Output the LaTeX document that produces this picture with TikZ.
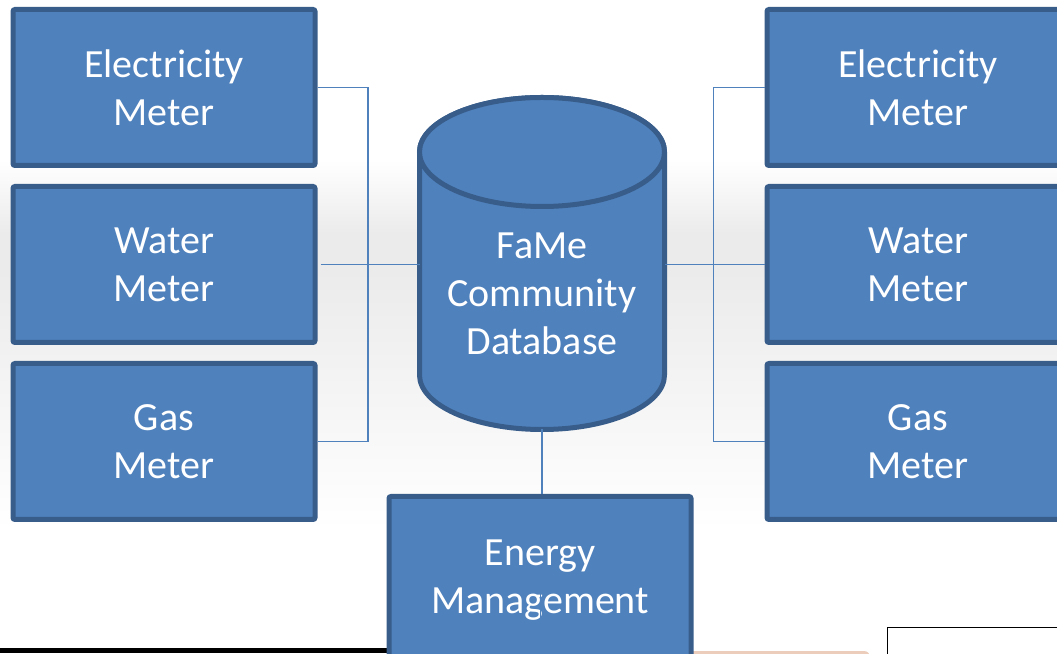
\documentclass[tikz,border=0pt]{standalone}
\usepackage{fontspec}
\setmainfont{Carlito}
\usepackage{tikz}
\usetikzlibrary{positioning}
\definecolor{meterblue}{RGB}{79,129,189}
\definecolor{meteredge}{RGB}{56,93,138}
\definecolor{peach}{RGB}{236,204,186}
\tikzstyle{meter} = [rectangle, rounded corners=2pt, minimum width=302pt, minimum height=156pt, inner sep=0pt, draw=meteredge, line width=5pt, fill=meterblue, text=white, align=center, font=\fontsize{40}{48}\selectfont]
\tikzstyle{dbbody} = [rectangle, minimum width=245pt, minimum height=332pt, inner sep=0pt, outer sep=0pt]
\tikzstyle{dbshape} = [draw=meteredge, line width=5pt, fill=meterblue]
\tikzstyle{dbtext} = [text=white, align=center, font=\fontsize{40}{48}\selectfont]
\tikzstyle{link} = [draw=meterblue, line width=1.8pt]

\begin{document}
\begin{tikzpicture}[x=1pt, y=1pt]
\useasboundingbox (0,0) rectangle (1057,653);
% grey band behind the diagram
\shade[top color=white, bottom color=gray!16] (0,493) rectangle (1057,418);
\fill[gray!16] (0,418) rectangle (1057,388);
\shade[top color=gray!16, bottom color=white] (0,388) rectangle (1057,123);

% meters
\node (elecL) [meter] at (164,565.5) {Electricity\\Meter};
\node (wtrL) [meter, below=16pt of elecL] {Water\\Meter};
\node (gasL) [meter, below=16pt of wtrL] {Gas\\Meter};
\node (elecR) [meter, right=447pt of elecL] {Electricity\\Meter};
\node (wtrR) [meter, below=16pt of elecR] {Water\\Meter};
\node (gasR) [meter, below=16pt of wtrR] {Gas\\Meter};

% database
\node (db) [dbbody] at (542,389.5) {};
\draw[dbshape] ([yshift=-54.5pt]db.north west) -- ([yshift=54.5pt]db.south west)
  arc[start angle=180, end angle=360, x radius=122.5pt, y radius=54.5pt]
  -- ([yshift=-54.5pt]db.north east)
  arc[start angle=0, end angle=180, x radius=122.5pt, y radius=54.5pt] -- cycle;
\draw[dbshape] ([yshift=-54.5pt]db.north) ellipse[x radius=122.5pt, y radius=54.5pt];
\node (dblabel) [dbtext] at ([yshift=-30.5pt]db.center) {FaMe\\Community\\Database};

% bottom strip pieces
\fill[black] (0,0) rectangle (388,5);
\fill[peach] (682,-10) [rounded corners=6pt] rectangle (870,2);
\draw[black, line width=0.8pt, fill=white] (887.5,-2) |- (1060,26);

\node (em) [meter, minimum height=167pt, below=64.5pt of db, xshift=-2pt] {Energy\\Management};

% connectors
\coordinate (busL) at (368,0);
\coordinate (busR) at (713.5,0);
\draw[link] (elecL.east) -- (elecL.east -| busL) -- (gasL.east -| busL) -- (gasL.east);
\draw[link] ([xshift=3pt]wtrL.east) -- (wtrL.east -| db.west);
\draw[link] (elecR.west) -- (elecR.west -| busR) -- (gasR.west -| busR) -- (gasR.west);
\draw[link] (wtrR.west) -- (wtrR.west -| db.east);
\draw[link] (db.south) -- (db.south |- em.north);
\draw[link, line width=0.8pt] ([yshift=10pt]em.center) -- (em.south);
\end{tikzpicture}
\end{document}
